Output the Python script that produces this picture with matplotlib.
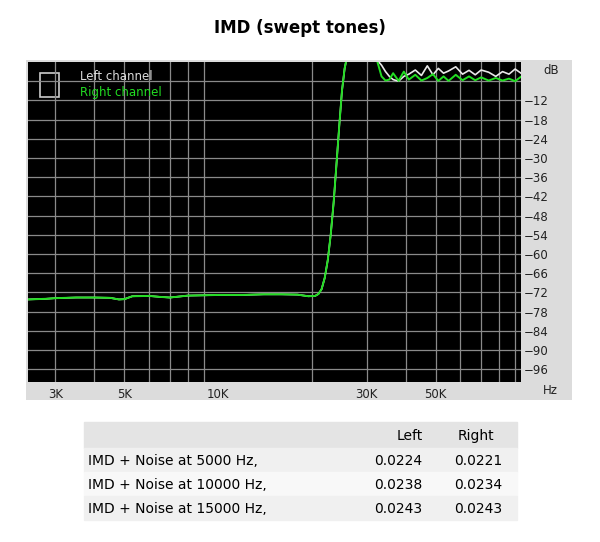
import matplotlib
matplotlib.use("Agg")
import matplotlib.pyplot as plt
import numpy as np
from matplotlib.patches import Rectangle

# IMD sweep, frequencies in Hz, levels in dB
freq_low = [2450, 2800, 3000, 3500, 4000, 4500, 4800, 5000, 5300, 6000, 6500, 7000,
            8000, 9000, 10000, 12000, 14000, 16000, 18000, 19500, 20500, 21000,
            21500, 22000, 22500, 23000, 23500, 24000, 24500, 25000, 25500, 26000]
right_low = [-74.2, -74.0, -73.8, -73.6, -73.6, -73.7, -74.2, -74.1, -73.2, -73.1, -73.4,
             -73.6, -73.0, -72.9, -72.8, -72.8, -72.6, -72.6, -72.7, -73.2, -73.1, -72.5,
             -71.0, -67.5, -62.0, -54.0, -44.0, -32.0, -20.0, -9.0, -2.0, 2.0]

freq_high = [32500, 33500, 34500, 35500, 36500, 38000, 39500, 41000, 43000, 45000, 47000,
             49000, 51000, 53000, 55000, 58000, 61000, 64000, 67000, 70000, 74000, 78000,
             82000, 86000, 90000, 94000]
right_high = [0.0, -4.5, -5.8, -5.5, -3.5, -5.9, -3.0, -5.5, -4.0, -5.8, -5.0, -3.8, -5.9,
              -4.5, -5.9, -4.0, -5.7, -4.5, -5.7, -4.8, -5.8, -5.0, -5.8, -5.2, -6.0, -4.6]
left_high = [0.5, -1.0, -3.0, -4.5, -5.5, -6.0, -4.5, -3.8, -2.5, -4.2, -1.2, -4.0, -2.0,
             -3.5, -2.8, -1.5, -3.8, -2.6, -4.0, -2.5, -3.2, -4.5, -3.0, -3.8, -2.2, -3.5]

db_ticks = [-12, -18, -24, -30, -36, -42, -48, -54, -60, -66, -72, -78, -84, -90, -96]
hz_ticks = [3000, 5000, 10000, 30000, 50000]
hz_labels = ["3K", "5K", "10K", "30K", "50K"]

rows = ["IMD + Noise at 5000 Hz,", "IMD + Noise at 10000 Hz,", "IMD + Noise at 15000 Hz,"]
left_vals = ["0.0224", "0.0238", "0.0243"]
right_vals = ["0.0221", "0.0234", "0.0243"]

W, H = 600, 542
fig = plt.figure(figsize=(6, 5.42), dpi=100)

def px(x0, y0, w, h):
    return [x0 / W, 1 - (y0 + h) / H, w / W, h / H]

# gray frame behind the plot
frame = fig.add_axes(px(26, 60, 546, 340))
frame.set_facecolor("#dcdcdc")
frame.set_xticks([])
frame.set_yticks([])
for s in frame.spines.values():
    s.set_visible(False)

ax = fig.add_axes(px(28, 62, 493, 320))
ax.set_facecolor("black")
ax.set_xscale("log")
ax.set_xlim(2450, 94000)
ax.set_ylim(-100, 0)

grid_x = [f * d for d in (1000, 10000) for f in range(2, 10) if 2450 < f * d < 94000]
for g in grid_x:
    ax.axvline(g, color="#8a8a8a", lw=0.9)
for g in range(-96, 0, 6):
    ax.axhline(g, color="#8a8a8a", lw=0.9)

ax.plot(freq_low, right_low, color="white", lw=1.2)
ax.plot(freq_low, right_low, color="#22dd22", lw=1.4)
ax.plot(freq_high, left_high, color="#e8e8e8", lw=1.2)
ax.plot(freq_high, right_high, color="#22dd22", lw=1.4)

ax.set_xticks(hz_ticks)
ax.set_xticklabels(hz_labels)
ax.xaxis.set_minor_locator(matplotlib.ticker.NullLocator())
ax.set_yticks(db_ticks)
ax.yaxis.tick_right()
ax.tick_params(length=0, labelsize=8.5, colors="#222222", pad=2)
ax.tick_params(axis="x", pad=4)
for s in ax.spines.values():
    s.set_visible(False)
fig.text(543 / W, 1 - 71 / H, "dB", fontsize=8.5, color="#222222", va="center")
fig.text(543 / W, 1 - 391 / H, "Hz", fontsize=8.5, color="#222222", va="center")

# legend
ax.add_patch(Rectangle((0.025, 0.89), 0.038, 0.075, transform=ax.transAxes,
                       fill=False, ec="#cccccc", lw=1.2))
ax.text(0.105, 0.955, "Left channel", transform=ax.transAxes, color="#dddddd",
        fontsize=8.5, va="center")
ax.text(0.105, 0.905, "Right channel", transform=ax.transAxes, color="#22dd22",
        fontsize=8.5, va="center")

fig.text(0.5, 1 - 28 / H, "IMD (swept tones)", ha="center", va="center",
         fontsize=12, fontweight="bold")

# table
bands = [(422, 26, "#e4e4e4"), (448, 24, "#f0f0f0"), (472, 24, "#f8f8f8"), (496, 24, "#f0f0f0")]
for y0, h, c in bands:
    fig.patches.append(Rectangle((84 / W, 1 - (y0 + h) / H), 433 / W, h / H,
                                 transform=fig.transFigure, color=c, zorder=0))
fig.text(410 / W, 1 - 436 / H, "Left", ha="center", va="center", fontsize=10)
fig.text(476 / W, 1 - 436 / H, "Right", ha="center", va="center", fontsize=10)
for i, name in enumerate(rows):
    y = 1 - (461 + 24 * i) / H
    fig.text(88 / W, y, name, va="center", fontsize=10)
    fig.text(422 / W, y, left_vals[i], ha="right", va="center", fontsize=10)
    fig.text(502 / W, y, right_vals[i], ha="right", va="center", fontsize=10)

fig.savefig("out.png", dpi=100, facecolor="white")
